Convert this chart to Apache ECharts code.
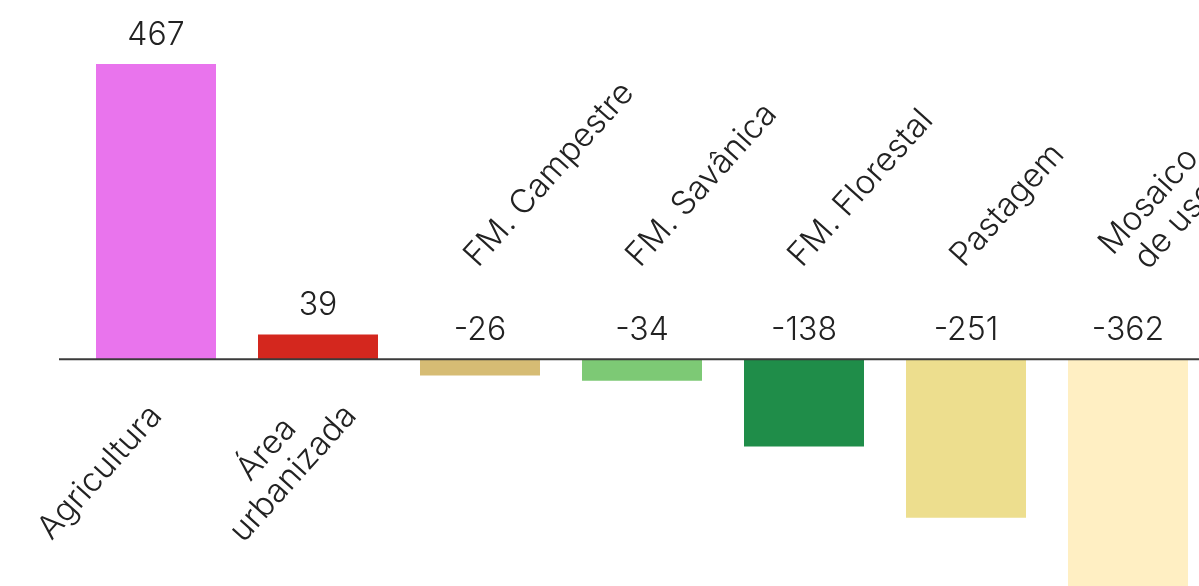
<!DOCTYPE html>
<html>
<head>
<meta charset="utf-8">
<script src="https://cdn.jsdelivr.net/npm/echarts@6/dist/echarts.min.js"></script>
<style>
html,body{margin:0;padding:0;background:#ffffff;}
#c{width:1199px;height:586px;}
#dbg{position:absolute;left:300px;top:10px;font:12px monospace;color:#c00;}
</style>
</head>
<body>
<div id="c"></div>
<div id="dbg"></div>
<script>
// ---- data ----
const categories = ['Agricultura', 'Área\nurbanizada', 'FM. Campestre', 'FM. Savânica', 'FM. Florestal', 'Pastagem', 'Mosaico\nde uso'];
const values = [467, 39, -26, -34, -138, -251, -362];
const colors = ['#E974ED', '#D4271E', '#D6BC74', '#7DC975', '#1F8D49', '#EDDE8E', '#FFEFC3'];

// ---- style ----
const FONT = 'Inter, "Noto Sans", "Open Sans", sans-serif';
const WEIGHT = 300;
const TEXT_COLOR = '#222222';
const CAT_SIZE = 33;
const VAL_SIZE = 32;

function richLabel(name) {
  return String(name).split('\n').map(function (l) { return '{c|' + l + '}'; }).join('\n');
}
const catRich = {
  c: { fontFamily: FONT, fontWeight: WEIGHT, fontSize: CAT_SIZE, color: TEXT_COLOR, lineHeight: 36, align: 'center' }
};

// category names: below the zero line for gains, above it for losses
function catLabelFor(v, name) {
  const multi = name.indexOf('\n') >= 0;
  if (v >= 0) {
    return { position: 'bottom', distance: 51, align: 'right', verticalAlign: 'middle',
             offset: multi ? [22, 6] : [0, 0] };
  }
  return { position: 'top', distance: 81, align: 'left', verticalAlign: 'middle', offset: [6, -18] };
}

try {
const chart = echarts.init(document.getElementById('c'), null, { renderer: 'canvas' });

chart.setOption({
  animation: false,
  backgroundColor: '#ffffff',
  grid: { left: 75, right: -10, top: 64, bottom: -2, outerBoundsMode: 'none', containLabel: false },
  xAxis: {
    type: 'category',
    data: categories,
    axisLine: { show: false },
    axisTick: { show: false },
    axisLabel: { show: false },
    splitLine: { show: false }
  },
  yAxis: {
    type: 'value',
    min: 'dataMin',
    max: 'dataMax',
    show: false,
    splitLine: { show: false }
  },
  series: [
    {
      name: 'valores',
      type: 'bar',
      barWidth: 120,
      barGap: '-100%',
      data: values.map(function (v, i) { return { value: v, itemStyle: { color: colors[i] } }; }),
      label: {
        show: true,
        position: 'top',
        distance: 13,
        fontFamily: FONT, fontWeight: WEIGHT, fontSize: VAL_SIZE, color: TEXT_COLOR
      }
    },
    {
      name: 'categorias',
      type: 'bar',
      barWidth: 120,
      barGap: '-100%',
      silent: true,
      itemStyle: { color: 'rgba(0,0,0,0)' },
      data: values.map(function (v, i) { return { value: v, label: catLabelFor(v, categories[i]) }; }),
      label: {
        show: true,
        rotate: 48,
        fontFamily: FONT, fontWeight: WEIGHT, fontSize: CAT_SIZE, color: TEXT_COLOR,
        rich: catRich,
        formatter: function (p) { return richLabel(categories[p.dataIndex]); }
      }
    }
  ]
});

// zero baseline (starts a little left of the first band, as in the reference)
const y0 = chart.convertToPixel({ yAxisIndex: 0 }, 0);
chart.setOption({
  graphic: [{
    type: 'line',
    z: 100,
    shape: { x1: 59, y1: y0, x2: 1199, y2: y0 },
    style: { stroke: '#3b3b3b', lineWidth: 2 }
  }]
});
} catch (e) {
  document.getElementById('dbg').textContent = 'ERR: ' + e.message;
}
</script>
</body>
</html>
